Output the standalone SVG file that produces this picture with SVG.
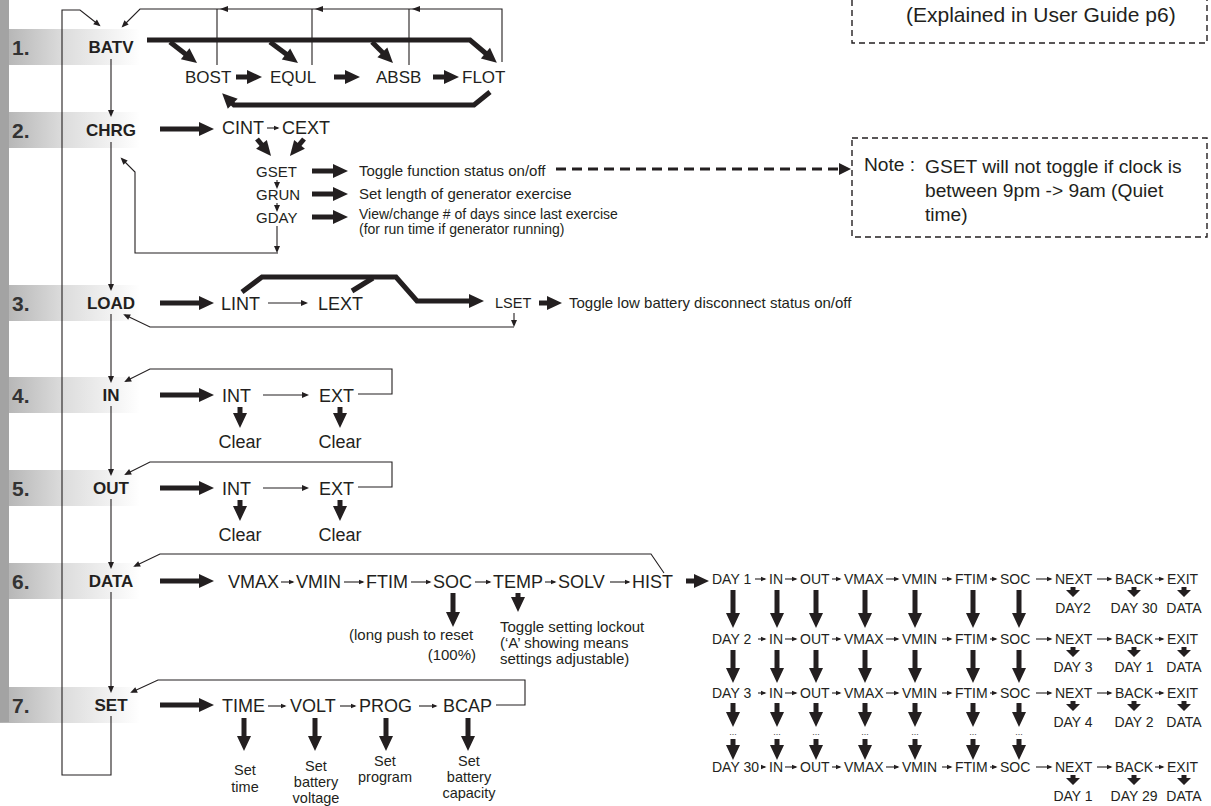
<svg xmlns="http://www.w3.org/2000/svg" width="1211" height="806" viewBox="0 0 1211 806">
<defs>
<linearGradient id="bandGrad" x1="0" y1="0" x2="1" y2="0">
<stop offset="0" stop-color="#b1b1b1"/>
<stop offset="0.45" stop-color="#dcdcdc"/>
<stop offset="1" stop-color="#ffffff"/>
</linearGradient>
<marker id="TA" markerUnits="userSpaceOnUse" markerWidth="15" markerHeight="14" refX="6" refY="7" orient="auto" overflow="visible"><path d="M0,0 L15,7 L0,14 z" fill="#231f20"/></marker>
<marker id="ta" markerUnits="userSpaceOnUse" markerWidth="7" markerHeight="6" refX="5" refY="3" orient="auto" overflow="visible"><path d="M0,0 L7,3 L0,6 z" fill="#231f20"/></marker>
<marker id="ts" markerUnits="userSpaceOnUse" markerWidth="6" markerHeight="5" refX="4" refY="2.2" orient="auto" overflow="visible"><path d="M0,0 L5.5,2.2 L0,4.4 z" fill="#231f20"/></marker>
<marker id="DA" markerUnits="userSpaceOnUse" markerWidth="12" markerHeight="12" refX="2" refY="6" orient="auto" overflow="visible"><path d="M0,0 L12,6 L0,12 z" fill="#231f20"/></marker>
<style>
.t{font-family:"Liberation Sans",Arial,Helvetica,sans-serif;fill:#231f20}
.num{font-size:21px;font-weight:bold;fill:#333}
.lab{font-size:17px;font-weight:bold;text-anchor:middle}
.it{font-size:18px}
.it17{font-size:17px}
.g{font-size:15px}
.d{font-size:15px}
.d2{font-size:14px}
.s{font-size:14px}
.c{font-size:14.5px}
.dots{font-size:9px;fill:#444;text-anchor:middle}
.mid{text-anchor:middle}
.end{text-anchor:end}
.note{font-size:19.2px}
.big{font-size:21px}
.thin{fill:none;stroke:#231f20;stroke-width:1.1}
.thick{fill:none;stroke:#231f20;stroke-width:5;stroke-linejoin:miter}
.box{fill:none;stroke:#231f20;stroke-width:1.4;stroke-dasharray:6 4}
.dl{fill:none;stroke:#231f20;stroke-width:3;stroke-dasharray:10 6}
.ah{fill:#231f20}
</style>
</defs>
<rect x="0" y="0" width="1211" height="806" fill="#ffffff"/>
<g id="bands">
<rect x="0" y="29" width="140" height="36" fill="url(#bandGrad)"/>
<rect x="0" y="112" width="140" height="36" fill="url(#bandGrad)"/>
<rect x="0" y="285" width="140" height="36" fill="url(#bandGrad)"/>
<rect x="0" y="377" width="140" height="36" fill="url(#bandGrad)"/>
<rect x="0" y="470" width="140" height="36" fill="url(#bandGrad)"/>
<rect x="0" y="563" width="140" height="36" fill="url(#bandGrad)"/>
<rect x="0" y="687" width="140" height="36" fill="url(#bandGrad)"/>
<rect x="0" y="0" width="9" height="722" fill="#a3a3a3"/>
</g>
<g id="connectors">
<path class="thin" d="M111,59 V115" marker-end="url(#ta)"/>
<path class="thin" d="M111,142 V289" marker-end="url(#ta)"/>
<path class="thin" d="M111,314 V381" marker-end="url(#ta)"/>
<path class="thin" d="M111,406 V474" marker-end="url(#ta)"/>
<path class="thin" d="M111,499 V567" marker-end="url(#ta)"/>
<path class="thin" d="M111,592 V691" marker-end="url(#ta)"/>
<path class="thin" d="M111,716 V775 H62 V10 H80 L99,25" marker-end="url(#ta)"/>
<path class="thin" d="M502,62 V9 H140 L123,26" marker-end="url(#ta)"/>
<path class="thin" d="M217,65 V9 M312,65 V9 M409,65 V9"/>
<polygon class="ah" points="220,9 228,6 228,12"/>
<polygon class="ah" points="315,9 323,6 323,12"/>
<polygon class="ah" points="412,9 420,6 420,12"/>
<path class="thick" d="M147,40 H470 L490,57" marker-end="url(#TA)"/>
<path class="thick" d="M170,42 L189.9,57.5" marker-end="url(#TA)"/>
<path class="thick" d="M270,42 L290.8,57.6" marker-end="url(#TA)"/>
<path class="thick" d="M372,42 L386.6,56.6" marker-end="url(#TA)"/>
<path class="thick" d="M236,77 H253" marker-end="url(#TA)"/>
<path class="thick" d="M334,77 H351" marker-end="url(#TA)"/>
<path class="thick" d="M433,77 H450" marker-end="url(#TA)"/>
<path class="thick" d="M490,92 L474,105 H234 L228.5,99.5" marker-end="url(#TA)"/>
<path class="thick" d="M160,129 H205" marker-end="url(#TA)"/>
<path class="thin" d="M267,128 H278" marker-end="url(#ts)"/>
<path class="thick" d="M257,139 L265.3,149" marker-end="url(#TA)"/>
<path class="thick" d="M304,139 L295.7,149" marker-end="url(#TA)"/>
<path class="thin" d="M277,180 V187" marker-end="url(#ta)"/>
<path class="thin" d="M277,203 V210" marker-end="url(#ta)"/>
<path class="thin" d="M277,226 V251" marker-end="url(#ta)"/>
<path class="thin" d="M278,253 H135 V172 L122,159" marker-end="url(#ta)"/>
<path class="thick" d="M312,171 H339" marker-end="url(#TA)"/>
<path class="thick" d="M312,194 H339" marker-end="url(#TA)"/>
<path class="thick" d="M312,217 H339" marker-end="url(#TA)"/>
<path class="dl" d="M556,169 H841" marker-end="url(#DA)"/>
<path class="thick" d="M160,303 H205" marker-end="url(#TA)"/>
<path class="thin" d="M268,303 H306" marker-end="url(#ta)"/>
<path class="thick" d="M242,292 L262,277 H396 L417,301 H475" marker-end="url(#TA)"/>
<path class="thick" d="M352,291 L373,278"/>
<path class="thick" d="M539,303 H553" marker-end="url(#TA)"/>
<path class="thin" d="M514,313 V325" marker-end="url(#ta)"/>
<path class="thin" d="M514,327 H150 L125,315" marker-end="url(#ta)"/>
<path class="thick" d="M160,395 H205" marker-end="url(#TA)"/>
<path class="thin" d="M263,395 H307" marker-end="url(#ta)"/>
<path class="thin" d="M358,394 H392 V369 H150 L126,381" marker-end="url(#ta)"/>
<path class="thick" d="M240,407 V419" marker-end="url(#TA)"/>
<path class="thick" d="M340,407 V419" marker-end="url(#TA)"/>
<path class="thick" d="M160,488 H205" marker-end="url(#TA)"/>
<path class="thin" d="M263,488 H307" marker-end="url(#ta)"/>
<path class="thin" d="M358,487 H392 V462 H150 L126,474" marker-end="url(#ta)"/>
<path class="thick" d="M240,500 V512" marker-end="url(#TA)"/>
<path class="thick" d="M340,500 V512" marker-end="url(#TA)"/>
<path class="thick" d="M160,581 H205" marker-end="url(#TA)"/>
<path class="thin" d="M281,582 H293" marker-end="url(#ts)"/>
<path class="thin" d="M344,582 H363" marker-end="url(#ts)"/>
<path class="thin" d="M411,582 H430" marker-end="url(#ts)"/>
<path class="thin" d="M475,582 H490" marker-end="url(#ts)"/>
<path class="thin" d="M545,582 H555" marker-end="url(#ts)"/>
<path class="thin" d="M610,582 H629" marker-end="url(#ts)"/>
<path class="thin" d="M664,573 L651,554 H160 L135,566" marker-end="url(#ta)"/>
<path class="thick" d="M686,581 H700" marker-end="url(#TA)"/>
<path class="thick" d="M453,593 V618" marker-end="url(#TA)"/>
<path class="thick" d="M518,593 V603" marker-end="url(#TA)"/>
<path class="thick" d="M160,705 H205" marker-end="url(#TA)"/>
<path class="thin" d="M268,706 H285" marker-end="url(#ts)"/>
<path class="thin" d="M340,706 H355" marker-end="url(#ts)"/>
<path class="thin" d="M419,706 H436" marker-end="url(#ts)"/>
<path class="thin" d="M496,705 H525 V680 H158 L132,692" marker-end="url(#ta)"/>
<path class="thick" d="M244,718 V742" marker-end="url(#TA)"/>
<path class="thick" d="M315,718 V742" marker-end="url(#TA)"/>
<path class="thick" d="M386,718 V742" marker-end="url(#TA)"/>
<path class="thick" d="M468,718 V742" marker-end="url(#TA)"/>
<g id="grid-connectors">
<path class="thin" d="M755,579 H765" marker-end="url(#ts)"/>
<path class="thin" d="M785,579 H796" marker-end="url(#ts)"/>
<path class="thin" d="M832,579 H840" marker-end="url(#ts)"/>
<path class="thin" d="M886,579 H898" marker-end="url(#ts)"/>
<path class="thin" d="M942,579 H951" marker-end="url(#ts)"/>
<path class="thin" d="M990,579 H996" marker-end="url(#ts)"/>
<path class="thin" d="M1036,579 H1051" marker-end="url(#ts)"/>
<path class="thin" d="M1097,579 H1111" marker-end="url(#ts)"/>
<path class="thin" d="M1155,579 H1163" marker-end="url(#ts)"/>
<path class="thin" d="M758,639 H765" marker-end="url(#ts)"/>
<path class="thin" d="M785,639 H796" marker-end="url(#ts)"/>
<path class="thin" d="M832,639 H840" marker-end="url(#ts)"/>
<path class="thin" d="M886,639 H898" marker-end="url(#ts)"/>
<path class="thin" d="M942,639 H951" marker-end="url(#ts)"/>
<path class="thin" d="M990,639 H996" marker-end="url(#ts)"/>
<path class="thin" d="M1036,639 H1051" marker-end="url(#ts)"/>
<path class="thin" d="M1097,639 H1111" marker-end="url(#ts)"/>
<path class="thin" d="M1155,639 H1163" marker-end="url(#ts)"/>
<path class="thin" d="M758,693 H765" marker-end="url(#ts)"/>
<path class="thin" d="M785,693 H796" marker-end="url(#ts)"/>
<path class="thin" d="M832,693 H840" marker-end="url(#ts)"/>
<path class="thin" d="M886,693 H898" marker-end="url(#ts)"/>
<path class="thin" d="M942,693 H951" marker-end="url(#ts)"/>
<path class="thin" d="M990,693 H996" marker-end="url(#ts)"/>
<path class="thin" d="M1036,693 H1051" marker-end="url(#ts)"/>
<path class="thin" d="M1097,693 H1111" marker-end="url(#ts)"/>
<path class="thin" d="M1155,693 H1163" marker-end="url(#ts)"/>
<path class="thin" d="M761,767 H765" marker-end="url(#ts)"/>
<path class="thin" d="M785,767 H796" marker-end="url(#ts)"/>
<path class="thin" d="M832,767 H840" marker-end="url(#ts)"/>
<path class="thin" d="M886,767 H898" marker-end="url(#ts)"/>
<path class="thin" d="M942,767 H951" marker-end="url(#ts)"/>
<path class="thin" d="M990,767 H996" marker-end="url(#ts)"/>
<path class="thin" d="M1036,767 H1051" marker-end="url(#ts)"/>
<path class="thin" d="M1097,767 H1111" marker-end="url(#ts)"/>
<path class="thin" d="M1155,767 H1163" marker-end="url(#ts)"/>
<path class="thick" d="M733,590 V619" marker-end="url(#TA)"/>
<path class="thick" d="M777,590 V619" marker-end="url(#TA)"/>
<path class="thick" d="M816,590 V619" marker-end="url(#TA)"/>
<path class="thick" d="M865,590 V619" marker-end="url(#TA)"/>
<path class="thick" d="M915,590 V619" marker-end="url(#TA)"/>
<path class="thick" d="M973,590 V619" marker-end="url(#TA)"/>
<path class="thick" d="M1019,590 V619" marker-end="url(#TA)"/>
<path class="thick" d="M733,650 V674" marker-end="url(#TA)"/>
<path class="thick" d="M777,650 V674" marker-end="url(#TA)"/>
<path class="thick" d="M816,650 V674" marker-end="url(#TA)"/>
<path class="thick" d="M865,650 V674" marker-end="url(#TA)"/>
<path class="thick" d="M915,650 V674" marker-end="url(#TA)"/>
<path class="thick" d="M973,650 V674" marker-end="url(#TA)"/>
<path class="thick" d="M1019,650 V674" marker-end="url(#TA)"/>
<path class="thick" d="M733,703 V718" marker-end="url(#TA)"/>
<path class="thick" d="M777,703 V718" marker-end="url(#TA)"/>
<path class="thick" d="M816,703 V718" marker-end="url(#TA)"/>
<path class="thick" d="M865,703 V718" marker-end="url(#TA)"/>
<path class="thick" d="M915,703 V718" marker-end="url(#TA)"/>
<path class="thick" d="M973,703 V718" marker-end="url(#TA)"/>
<path class="thick" d="M1019,703 V718" marker-end="url(#TA)"/>
<path class="thick" d="M733,739 V751" marker-end="url(#TA)"/>
<path class="thick" d="M777,739 V751" marker-end="url(#TA)"/>
<path class="thick" d="M816,739 V751" marker-end="url(#TA)"/>
<path class="thick" d="M865,739 V751" marker-end="url(#TA)"/>
<path class="thick" d="M915,739 V751" marker-end="url(#TA)"/>
<path class="thick" d="M973,739 V751" marker-end="url(#TA)"/>
<path class="thick" d="M1019,739 V751" marker-end="url(#TA)"/>
<polygon class="ah" points="1070.5,587 1075.5,587 1075.5,590 1080,590 1073,597 1066,590 1070.5,590"/>
<polygon class="ah" points="1131.5,587 1136.5,587 1136.5,590 1141,590 1134,597 1127,590 1131.5,590"/>
<polygon class="ah" points="1181.5,587 1186.5,587 1186.5,590 1191,590 1184,597 1177,590 1181.5,590"/>
<polygon class="ah" points="1070.5,647 1075.5,647 1075.5,650 1080,650 1073,657 1066,650 1070.5,650"/>
<polygon class="ah" points="1131.5,647 1136.5,647 1136.5,650 1141,650 1134,657 1127,650 1131.5,650"/>
<polygon class="ah" points="1181.5,647 1186.5,647 1186.5,650 1191,650 1184,657 1177,650 1181.5,650"/>
<polygon class="ah" points="1070.5,701 1075.5,701 1075.5,704 1080,704 1073,711 1066,704 1070.5,704"/>
<polygon class="ah" points="1131.5,701 1136.5,701 1136.5,704 1141,704 1134,711 1127,704 1131.5,704"/>
<polygon class="ah" points="1181.5,701 1186.5,701 1186.5,704 1191,704 1184,711 1177,704 1181.5,704"/>
<polygon class="ah" points="1070.5,775 1075.5,775 1075.5,778 1080,778 1073,785 1066,778 1070.5,778"/>
<polygon class="ah" points="1131.5,775 1136.5,775 1136.5,778 1141,778 1134,785 1127,778 1131.5,778"/>
<polygon class="ah" points="1181.5,775 1186.5,775 1186.5,778 1191,778 1184,785 1177,778 1181.5,778"/>
</g>
</g>
<g id="note-boxes">
<g id="guide-note">
<rect class="box" x="852" y="-10" width="355" height="53"/>
<text class="t big" x="906" y="22">(Explained in User Guide p6)</text>
</g>
<g id="gset-note">
<rect class="box" x="852" y="138" width="355" height="99"/>
<text class="t note" x="864" y="171">Note :</text>
<text class="t note" x="925" y="173">GSET will not toggle if clock is</text>
<text class="t note" x="925" y="197">between 9pm -&gt; 9am (Quiet</text>
<text class="t note" x="925" y="221">time)</text>
</g>
</g>
<g id="row-labels">
<g id="node-batv"><text class="t num" x="12" y="55">1.</text><text class="t lab" x="111" y="53">BATV</text></g>
<g id="node-chrg"><text class="t num" x="12" y="138">2.</text><text class="t lab" x="111" y="136">CHRG</text></g>
<g id="node-load"><text class="t num" x="12" y="311">3.</text><text class="t lab" x="111" y="309">LOAD</text></g>
<g id="node-in"><text class="t num" x="12" y="403">4.</text><text class="t lab" x="111" y="401">IN</text></g>
<g id="node-out"><text class="t num" x="12" y="496">5.</text><text class="t lab" x="111" y="494">OUT</text></g>
<g id="node-data"><text class="t num" x="12" y="589">6.</text><text class="t lab" x="111" y="587">DATA</text></g>
<g id="node-set"><text class="t num" x="12" y="713">7.</text><text class="t lab" x="111" y="711">SET</text></g>
</g>
<g id="batv-items">
<g id="node-bost"><text class="t it17" x="185" y="83">BOST</text></g>
<g id="node-equl"><text class="t it17" x="270" y="83">EQUL</text></g>
<g id="node-absb"><text class="t it17" x="376" y="83">ABSB</text></g>
<g id="node-flot"><text class="t it17" x="462" y="83">FLOT</text></g>
</g>
<g id="chrg-items">
<g id="node-cint"><text class="t it" x="222" y="134">CINT</text></g>
<g id="node-cext"><text class="t it" x="282" y="134">CEXT</text></g>
<g id="node-gset"><text class="t g" x="256" y="177">GSET</text><text class="t d" x="359" y="176">Toggle function status on/off</text></g>
<g id="node-grun"><text class="t g" x="256" y="200">GRUN</text><text class="t d" x="359" y="199">Set length of generator exercise</text></g>
<g id="node-gday"><text class="t g" x="256" y="223">GDAY</text><text class="t d2" x="359" y="219">View/change # of days since last exercise<tspan x="359" dy="15">(for run time if generator running)</tspan></text></g>
</g>
<g id="load-items">
<g id="node-lint"><text class="t it" x="221" y="310">LINT</text></g>
<g id="node-lext"><text class="t it" x="318" y="310">LEXT</text></g>
<g id="node-lset"><text class="t c" x="495" y="308">LSET</text><text class="t d" x="569" y="308">Toggle low battery disconnect status on/off</text></g>
</g>
<g id="in-items">
<g id="node-in-int"><text class="t it" x="222" y="402">INT</text><text class="t it mid" x="240" y="448">Clear</text></g>
<g id="node-in-ext"><text class="t it" x="319" y="402">EXT</text><text class="t it mid" x="340" y="448">Clear</text></g>
</g>
<g id="out-items">
<g id="node-out-int"><text class="t it" x="222" y="495">INT</text><text class="t it mid" x="240" y="541">Clear</text></g>
<g id="node-out-ext"><text class="t it" x="319" y="495">EXT</text><text class="t it mid" x="340" y="541">Clear</text></g>
</g>
<g id="data-items">
<g id="node-vmax"><text class="t it" x="228" y="588">VMAX</text></g>
<g id="node-vmin"><text class="t it" x="296" y="588">VMIN</text></g>
<g id="node-ftim"><text class="t it" x="366" y="588">FTIM</text></g>
<g id="node-soc"><text class="t it" x="433" y="588">SOC</text>
<text class="t d" x="349" y="640">(long push to reset</text><text class="t d end" x="476" y="660">(100%)</text></g>
<g id="node-temp"><text class="t it" x="493" y="588">TEMP</text>
<text class="t d" x="500" y="632">Toggle setting lockout<tspan x="500" dy="16">(‘A’ showing means</tspan><tspan x="500" dy="16">settings adjustable)</tspan></text></g>
<g id="node-solv"><text class="t it" x="558" y="588">SOLV</text></g>
<g id="node-hist"><text class="t it" x="632" y="588">HIST</text></g>
</g>
<g id="set-items">
<g id="node-time"><text class="t it" x="222" y="712">TIME</text><text class="t c mid" x="245" y="775">Set<tspan x="245" dy="17">time</tspan></text></g>
<g id="node-volt"><text class="t it" x="290" y="712">VOLT</text><text class="t c mid" x="316" y="771">Set<tspan x="316" dy="16">battery</tspan><tspan x="316" dy="16">voltage</tspan></text></g>
<g id="node-prog"><text class="t it" x="359" y="712">PROG</text><text class="t c mid" x="385" y="766">Set<tspan x="385" dy="16">program</tspan></text></g>
<g id="node-bcap"><text class="t it" x="443" y="712">BCAP</text><text class="t c mid" x="469" y="766">Set<tspan x="469" dy="16">battery</tspan><tspan x="469" dy="16">capacity</tspan></text></g>
</g>
<g id="history-grid">
<g id="hist-row-1">
<text class="t s" x="712" y="584">DAY 1</text><text class="t s" x="769" y="584">IN</text><text class="t s" x="800" y="584">OUT</text><text class="t s" x="844" y="584">VMAX</text><text class="t s" x="902" y="584">VMIN</text><text class="t s" x="955" y="584">FTIM</text><text class="t s" x="1000" y="584">SOC</text><text class="t s" x="1055" y="584">NEXT</text><text class="t s" x="1115" y="584">BACK</text><text class="t s" x="1167" y="584">EXIT</text>
<text class="t s mid" x="1073" y="613">DAY2</text><text class="t s mid" x="1134" y="613">DAY 30</text><text class="t s mid" x="1184" y="613">DATA</text>
</g>
<g id="hist-row-2">
<text class="t s" x="712" y="644">DAY 2</text><text class="t s" x="769" y="644">IN</text><text class="t s" x="800" y="644">OUT</text><text class="t s" x="844" y="644">VMAX</text><text class="t s" x="902" y="644">VMIN</text><text class="t s" x="955" y="644">FTIM</text><text class="t s" x="1000" y="644">SOC</text><text class="t s" x="1055" y="644">NEXT</text><text class="t s" x="1115" y="644">BACK</text><text class="t s" x="1167" y="644">EXIT</text>
<text class="t s mid" x="1073" y="672">DAY 3</text><text class="t s mid" x="1134" y="672">DAY 1</text><text class="t s mid" x="1184" y="672">DATA</text>
</g>
<g id="hist-row-3">
<text class="t s" x="712" y="698">DAY 3</text><text class="t s" x="769" y="698">IN</text><text class="t s" x="800" y="698">OUT</text><text class="t s" x="844" y="698">VMAX</text><text class="t s" x="902" y="698">VMIN</text><text class="t s" x="955" y="698">FTIM</text><text class="t s" x="1000" y="698">SOC</text><text class="t s" x="1055" y="698">NEXT</text><text class="t s" x="1115" y="698">BACK</text><text class="t s" x="1167" y="698">EXIT</text>
<text class="t s mid" x="1073" y="727">DAY 4</text><text class="t s mid" x="1134" y="727">DAY 2</text><text class="t s mid" x="1184" y="727">DATA</text>
</g>
<g id="hist-dots">
<text class="t dots" x="733" y="735">...</text><text class="t dots" x="777" y="735">...</text><text class="t dots" x="816" y="735">...</text><text class="t dots" x="865" y="735">...</text><text class="t dots" x="915" y="735">...</text><text class="t dots" x="973" y="735">...</text><text class="t dots" x="1019" y="735">...</text>
</g>
<g id="hist-row-30">
<text class="t s" x="712" y="772">DAY 30</text><text class="t s" x="769" y="772">IN</text><text class="t s" x="800" y="772">OUT</text><text class="t s" x="844" y="772">VMAX</text><text class="t s" x="902" y="772">VMIN</text><text class="t s" x="955" y="772">FTIM</text><text class="t s" x="1000" y="772">SOC</text><text class="t s" x="1055" y="772">NEXT</text><text class="t s" x="1115" y="772">BACK</text><text class="t s" x="1167" y="772">EXIT</text>
<text class="t s mid" x="1073" y="801">DAY 1</text><text class="t s mid" x="1134" y="801">DAY 29</text><text class="t s mid" x="1184" y="801">DATA</text>
</g>
</g>
</svg>
